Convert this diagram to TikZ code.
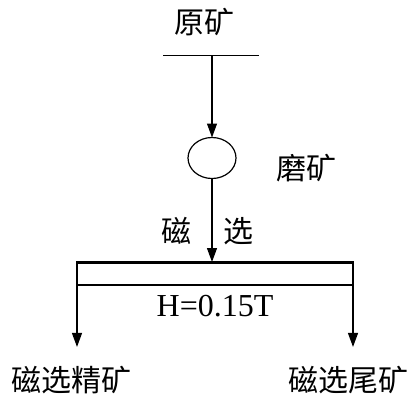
\documentclass[tikz,border=0pt]{standalone}
\usepackage{fontspec}
\setmainfont{Liberation Serif}
\newfontfamily\cjk{Noto Sans CJK SC}
\usetikzlibrary{arrows.meta,shapes.geometric}
\tikzset{
  flow/.style={line width=1.2pt,-{Triangle[length=14pt,width=10pt]}},
  zh/.style={font=\cjk\fontsize{30}{32}\selectfont,inner sep=0pt},
}
\begin{document}
\begin{tikzpicture}[x=1pt,y=-1pt]
  \useasboundingbox (0,0) rectangle (414,394);
  % feed
  \node[zh] (feed) at (204,22) {原矿};
  \coordinate (feedL) at (163,55);
  \coordinate (feedR) at (259,55);
  \coordinate (feedM) at (212,55);
  \draw[line width=1pt] (feedL) -- (feedR);
  % grinding
  \node[draw,ellipse,line width=1.2pt,minimum width=48pt,minimum height=41pt,inner sep=0pt,outer sep=0pt] (mill) at (212,158) {};
  \node[zh] (millLab) at (306,168) {磨矿};
  \draw[flow] (feedM) -- (mill.north);
  % magnetic separator
  \coordinate (boxTL) at (77,262);
  \coordinate (boxTR) at (353,262);
  \coordinate (boxBL) at (77,285);
  \coordinate (boxBR) at (353,285);
  \node[zh] (sepA) at (176,231) {磁};
  \node[zh] (sepB) at (238,231) {选};
  \draw[flow] (mill.south) -- (mill.south |- boxTL);
  \draw[line width=3pt] ([xshift=-0.6pt]boxTL) -- ([xshift=0.6pt]boxTR);
  \draw[line width=1.2pt] (boxBL) -- (boxBR);
  \node[inner sep=0pt,font=\fontsize{32}{34}\selectfont] (field) at (215,306) {H=0.15T};
  % products
  \node[zh] (conc) at (71,380) {磁选精矿};
  \node[zh] (tail) at (348,380) {磁选尾矿};
  \draw[flow,shorten >=19pt] (boxTL) -- (boxTL |- conc.north);
  \draw[flow,shorten >=19pt] (boxTR) -- (boxTR |- tail.north);
\end{tikzpicture}
\end{document}
